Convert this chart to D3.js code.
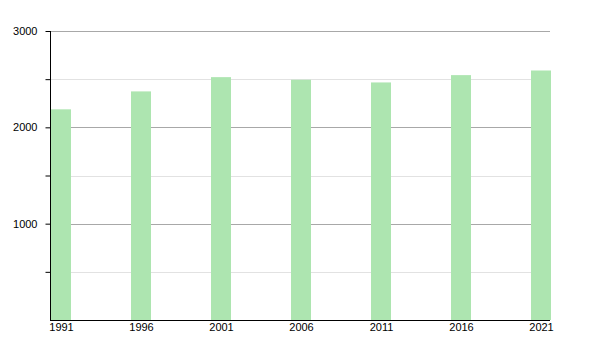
<!DOCTYPE html>
<html>
<head>
<meta charset="utf-8">
<script src="https://cdn.jsdelivr.net/npm/d3@7"></script>
<style>
  body { margin: 0; background: #fff; }
  text { font-family: "Liberation Sans", Arial, sans-serif; font-size: 11px; fill: #000; }
</style>
</head>
<body>
<div id="chart"></div>
<script>
var years = [1991, 1996, 2001, 2006, 2011, 2016, 2021];
var population = [2187, 2373, 2521, 2494, 2466, 2542, 2590];
var majorTicks = [1000, 2000, 3000];
var minorTicks = [500, 1500, 2500];

const width = 600, height = 350;
const plotLeft = 50, plotRight = 550, plotTop = 31, plotBottom = 320;

const svg = d3.select("#chart").append("svg")
    .attr("width", width)
    .attr("height", height);

const x = d3.scaleLinear()
    .domain([1991, 2021])
    .range([plotLeft + 11, plotRight - 9]);

const y = d3.scaleLinear()
    .domain([0, 3000])
    .range([plotBottom, plotTop]);

// grid lines
svg.append("g").selectAll("line")
    .data(minorTicks)
    .enter().append("line")
    .attr("x1", plotLeft).attr("x2", plotRight)
    .attr("y1", d => Math.round(y(d)) + 0.5)
    .attr("y2", d => Math.round(y(d)) + 0.5)
    .attr("stroke", "#e2e2e2");

svg.append("g").selectAll("line")
    .data(majorTicks)
    .enter().append("line")
    .attr("x1", plotLeft).attr("x2", plotRight)
    .attr("y1", d => Math.round(y(d)) + 0.5)
    .attr("y2", d => Math.round(y(d)) + 0.5)
    .attr("stroke", "#a8a8a8");

// bars
svg.append("g").selectAll("rect")
    .data(years)
    .enter().append("rect")
    .attr("x", d => x(d) - 10)
    .attr("width", 20)
    .attr("y", (d, i) => y(population[i]))
    .attr("height", (d, i) => y(0) - y(population[i]))
    .attr("fill", "#ade5b0");

// y axis
const yAxis = d3.axisLeft(y)
    .tickValues(majorTicks.concat(minorTicks))
    .tickSize(5)
    .tickFormat(d => majorTicks.includes(d) ? d : "");

const gy = svg.append("g")
    .attr("transform", "translate(" + (plotLeft + 0.5) + ",0)")
    .call(yAxis);
gy.select(".domain").remove();
gy.selectAll(".tick line").attr("stroke", "#000");
gy.selectAll(".tick text").attr("x", -13).style("font-size", "11px");

svg.append("line")
    .attr("x1", plotLeft + 0.5).attr("x2", plotLeft + 0.5)
    .attr("y1", plotTop).attr("y2", plotBottom + 0.5)
    .attr("stroke", "#000");

// x axis
const xAxis = d3.axisBottom(x)
    .tickValues(years)
    .tickSize(0)
    .tickFormat(d3.format("d"));

const gx = svg.append("g")
    .attr("transform", "translate(0," + (plotBottom + 0.5) + ")")
    .call(xAxis);
gx.select(".domain").remove();
gx.selectAll(".tick text").attr("dy", "0.71em").attr("y", 3).style("font-size", "11px");

svg.append("line")
    .attr("x1", plotLeft).attr("x2", plotRight)
    .attr("y1", plotBottom + 0.5).attr("y2", plotBottom + 0.5)
    .attr("stroke", "#000");
</script>
</body>
</html>
